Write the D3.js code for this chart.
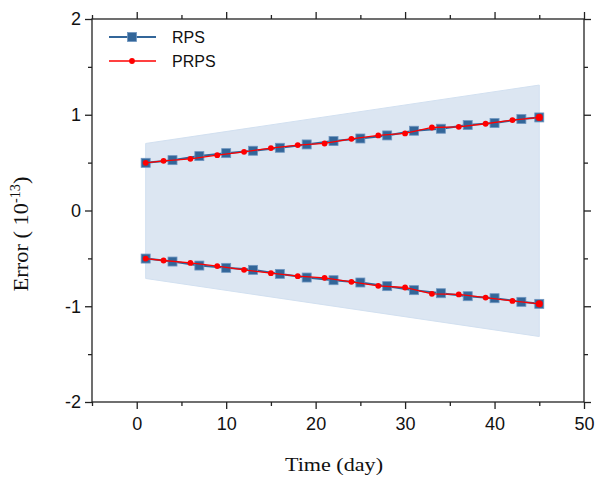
<!DOCTYPE html>
<html>
<head>
<meta charset="utf-8">
<script src="https://cdn.jsdelivr.net/npm/d3@7"></script>
<style>
  body { margin: 0; background: #fff; }
  svg { display: block; }
</style>
</head>
<body>
<svg id="chart" width="595" height="484"></svg>
<script>
// Series data: error bounds over time (units of 1e-13)
const rpsDays = [1, 4, 7, 10, 13, 16, 19, 22, 25, 28, 31, 34, 37, 40, 43, 45];
const rpsUpper = [0.498, 0.526, 0.568, 0.599, 0.624, 0.655, 0.690, 0.725, 0.752, 0.784, 0.833, 0.854, 0.892, 0.913, 0.955, 0.972];
const rpsLower = [-0.502, -0.533, -0.575, -0.599, -0.620, -0.662, -0.700, -0.728, -0.752, -0.790, -0.832, -0.864, -0.895, -0.916, -0.954, -0.975];

const prpsDays = [1, 3, 6, 9, 12, 15, 18, 21, 24, 27, 30, 33, 36, 39, 42, 45];
const prpsUpper = [0.498, 0.519, 0.540, 0.578, 0.613, 0.652, 0.683, 0.700, 0.749, 0.784, 0.805, 0.867, 0.874, 0.906, 0.944, 0.972];
const prpsLower = [-0.502, -0.522, -0.547, -0.580, -0.620, -0.655, -0.686, -0.703, -0.745, -0.787, -0.804, -0.870, -0.877, -0.909, -0.944, -0.975];

// Shaded envelope
const bandDays = [1, 45];
const bandUpper = [0.70, 1.31];
const bandLower = [-0.71, -1.316];

const xTicks = [0, 10, 20, 30, 40, 50];
const xMinor = [-5, 5, 15, 25, 35, 45];
const yTicks = [-2, -1, 0, 1, 2];
const yMinor = [-1.5, -0.5, 0.5, 1.5];

const svg = d3.select("#chart");
const L = 92, R = 584, T = 19, B = 402;

const x = d3.scaleLinear().domain([-5, 50]).range([L, R]);
const y = d3.scaleLinear().domain([-2, 2]).range([B, T]);

const blue = "#336699";
const red = "#ff0000";

// envelope
const area = d3.area()
  .x(d => x(d[0]))
  .y0(d => y(d[2]))
  .y1(d => y(d[1]));
svg.append("path")
  .datum(bandDays.map((d, i) => [d, bandUpper[i], bandLower[i]]))
  .attr("d", area)
  .attr("fill", "#dce6f2")
  .attr("stroke", "#d2e0f0")
  .attr("stroke-width", 1);

const line = d3.line().x(d => x(d[0])).y(d => y(d[1]));

function drawRPS(vals) {
  const pts = rpsDays.map((d, i) => [d, vals[i]]);
  svg.append("path").datum(pts).attr("d", line)
    .attr("fill", "none").attr("stroke", blue).attr("stroke-width", 2);
  svg.append("g").selectAll("rect").data(pts).join("rect")
    .attr("x", d => x(d[0]) - 4.5).attr("y", d => y(d[1]) - 4.5)
    .attr("width", 9).attr("height", 9)
    .attr("fill", blue).attr("stroke", "#6f96c0").attr("stroke-width", 0.8);
}
function drawPRPS(vals) {
  const pts = prpsDays.map((d, i) => [d, vals[i]]);
  svg.append("path").datum(pts).attr("d", line)
    .attr("fill", "none").attr("stroke", red).attr("stroke-width", 1.3);
  svg.append("g").selectAll("circle").data(pts).join("circle")
    .attr("cx", d => x(d[0])).attr("cy", d => y(d[1]))
    .attr("r", (d, i) => i === pts.length - 1 ? 3.6 : 2.9)
    .attr("fill", red);
}
drawRPS(rpsUpper);
drawRPS(rpsLower);
drawPRPS(prpsUpper);
drawPRPS(prpsLower);

// frame and axes
const axisColor = "#222";
svg.append("rect").attr("x", L).attr("y", T).attr("width", R - L).attr("height", B - T)
  .attr("fill", "none").attr("stroke", axisColor).attr("stroke-width", 1.3);

const plainNum = d => String(d);

function styleAxis(g) {
  g.select(".domain").remove();
  g.selectAll("line").attr("stroke", axisColor).attr("stroke-width", 1.3);
  g.selectAll("text").attr("font-family", "Liberation Sans, Arial, sans-serif")
    .attr("font-size", 18).attr("fill", "#111");
}

// bottom
svg.append("g").attr("transform", `translate(0,${B})`)
  .call(d3.axisBottom(x).tickValues(xTicks).tickSize(7).tickPadding(8).tickFormat(plainNum))
  .call(styleAxis);
svg.append("g").attr("transform", `translate(0,${B})`)
  .call(d3.axisBottom(x).tickValues(xMinor).tickSize(4).tickFormat(""))
  .call(styleAxis);
// top
svg.append("g").attr("transform", `translate(0,${T})`)
  .call(d3.axisTop(x).tickValues(xTicks).tickSize(7).tickFormat(""))
  .call(styleAxis);
svg.append("g").attr("transform", `translate(0,${T})`)
  .call(d3.axisTop(x).tickValues(xMinor).tickSize(4).tickFormat(""))
  .call(styleAxis);
// left
svg.append("g").attr("transform", `translate(${L},0)`)
  .call(d3.axisLeft(y).tickValues(yTicks).tickSize(7).tickPadding(4).tickFormat(plainNum))
  .call(styleAxis);
svg.append("g").attr("transform", `translate(${L},0)`)
  .call(d3.axisLeft(y).tickValues(yMinor).tickSize(4).tickFormat(""))
  .call(styleAxis);
// right
svg.append("g").attr("transform", `translate(${R},0)`)
  .call(d3.axisRight(y).tickValues(yTicks).tickSize(7).tickFormat(""))
  .call(styleAxis);
svg.append("g").attr("transform", `translate(${R},0)`)
  .call(d3.axisRight(y).tickValues(yMinor).tickSize(4).tickFormat(""))
  .call(styleAxis);

// axis titles
svg.append("text").attr("x", 334).attr("y", 471).attr("text-anchor", "middle")
  .attr("font-family", "Liberation Serif, Times New Roman, serif").attr("font-size", 19)
  .attr("textLength", 98).attr("lengthAdjust", "spacingAndGlyphs")
  .attr("fill", "#111").text("Time (day)");

const ytG = svg.append("g");
const yt = ytG.append("text")
  .attr("text-anchor", "middle")
  .attr("font-family", "Liberation Serif, Times New Roman, serif").attr("font-size", 22)
  .attr("fill", "#111");
yt.append("tspan").text("Error\u00a0(\u00a010");
yt.append("tspan").attr("font-size", 14).attr("dy", -8).text("-13");
yt.append("tspan").attr("dy", 8).text(")");
// compress along the reading direction to the title's span
const ytLen = yt.node().getComputedTextLength();
ytG.attr("transform", `translate(28,234) rotate(-90) scale(${115 / ytLen},1)`);

// legend
const leg = svg.append("g");
const legItems = [
  { name: "RPS", y: 37, kind: "rps" },
  { name: "PRPS", y: 61, kind: "prps" }
];
legItems.forEach(it => {
  leg.append("line").attr("x1", 109).attr("x2", 156).attr("y1", it.y).attr("y2", it.y)
    .attr("stroke", it.kind === "rps" ? blue : red)
    .attr("stroke-width", it.kind === "rps" ? 2 : 1.3);
  if (it.kind === "rps") {
    leg.append("rect").attr("x", 132 - 4.5).attr("y", it.y - 4.5).attr("width", 9).attr("height", 9)
      .attr("fill", blue).attr("stroke", "#6f96c0").attr("stroke-width", 0.8);
  } else {
    leg.append("circle").attr("cx", 132).attr("cy", it.y).attr("r", 2.9).attr("fill", red);
  }
  leg.append("text").attr("x", 172).attr("y", it.y + 6)
    .attr("font-family", "Liberation Sans, Arial, sans-serif").attr("font-size", 16)
    .attr("fill", "#111").text(it.name);
});
</script>
</body>
</html>
